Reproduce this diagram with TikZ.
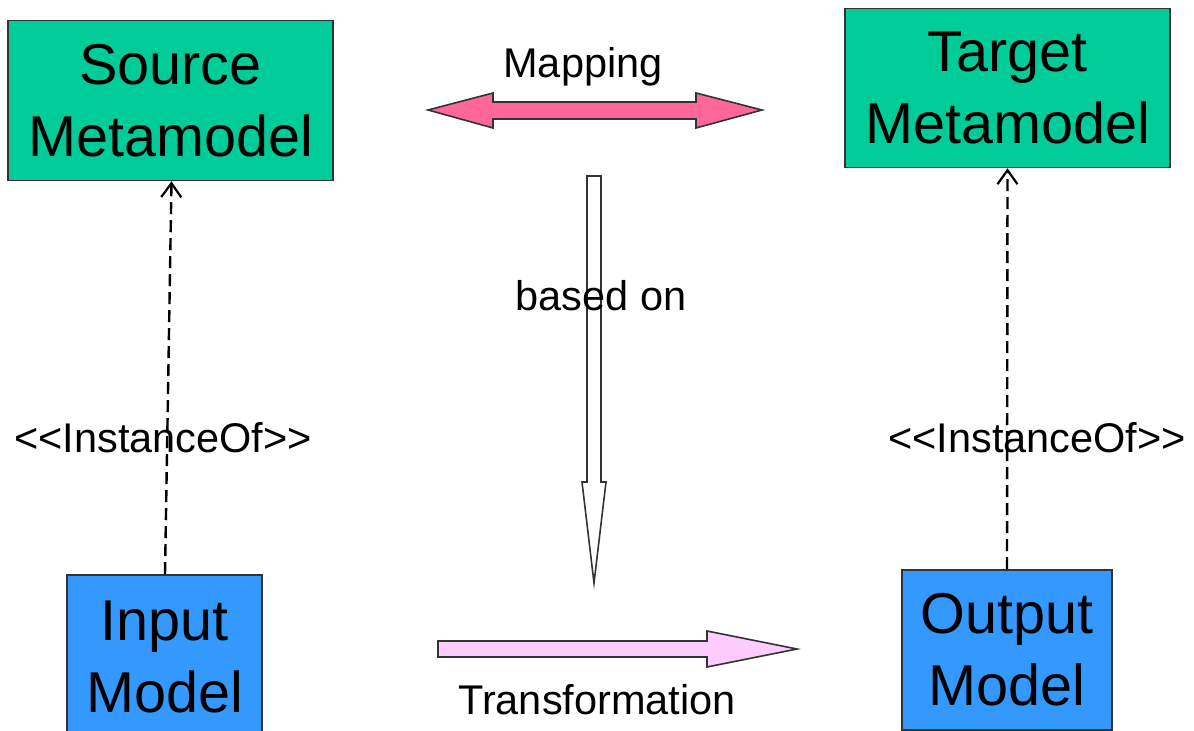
\documentclass[tikz,border=0pt]{standalone}
\usepackage{fontspec}
\setmainfont{Liberation Sans}
\usetikzlibrary{arrows.meta}
\definecolor{metagreen}{RGB}{0,204,153}
\definecolor{modelblue}{RGB}{51,153,255}
\definecolor{mappink}{RGB}{255,102,153}
\definecolor{transpink}{RGB}{255,204,255}
\tikzset{
  metabox/.style={draw=black!80, line width=0.8pt, fill=metagreen, align=center,
    font=\fontsize{28.8}{36}\selectfont, inner sep=0pt},
  modelbox/.style={draw=black!80, line width=0.8pt, fill=modelblue, align=center,
    font=\fontsize{28.8}{36}\selectfont, inner sep=0pt},
  instof/.style={dashed, dash pattern=on 6pt off 3pt, line width=1.2pt,
    -{Straight Barb[length=7pt,width=10pt,line width=1.1pt]}},
  lbl/.style={font=\fontsize{20.75}{25}\selectfont, inner sep=0pt},
  blockarrow/.style={draw=black!80, line width=0.8pt, line join=miter}
}
\begin{document}
\begin{tikzpicture}[x=0.5pt,y=-0.5pt]
            \useasboundingbox (0,0) rectangle (1194,731);
            \clip (0,0) rectangle (1194,731);
            %nodes
            \node[metabox, minimum width=162.5pt, minimum height=80pt] (src) at (170.5,100.5) {Source\\Metamodel};
            \node[metabox, minimum width=162.5pt, minimum height=79.5pt] (tgt) at (1007.5,88) {Target\\Metamodel};
            \node[modelbox, minimum width=97.5pt, minimum height=90pt] (in) at (164.5,665) {};
            \node[modelbox, draw=none, fill=none] (intext) at (164.5,657) {Input\\Model};
            \node[modelbox, minimum width=105pt, minimum height=80pt] (out) at (1007,650) {Output\\Model};

            %block arrows
            \draw[blockarrow, fill=mappink] (428,110) -- (493,93) -- (493,102) -- (696,102) -- (696,93)
              -- (762,110) -- (696,128) -- (696,119) -- (493,119) -- (493,128) -- cycle;
            \draw[blockarrow, fill=white] (587,176) -- (601,176) -- (601,482) -- (606,482)
              -- (594,583) -- (582,482) -- (587,482) -- cycle;
            \draw[blockarrow, fill=transpink] (438,641) -- (707,641) -- (707,631) -- (797,649)
              -- (707,667) -- (707,657) -- (438,657) -- cycle;

            %labels
            \node[lbl] (map) at (583,67) {Mapping};
            \node[lbl] (based) at (601,296) {based on};
            \node[lbl] (trans) at (597,700) {Transformation};
            \node[lbl] (inst1) at (163,438) {<\kern0pt<InstanceOf>\kern0pt>};
            \node[lbl] (inst2) at (1037,438) {<\kern0pt<InstanceOf>\kern0pt>};

            %edges
            \draw[instof] (in.north -| 165,0) -- (src.south -| 171.5,0);
            \draw[instof] (out.north) -- (tgt.south);
\end{tikzpicture}
\end{document}
